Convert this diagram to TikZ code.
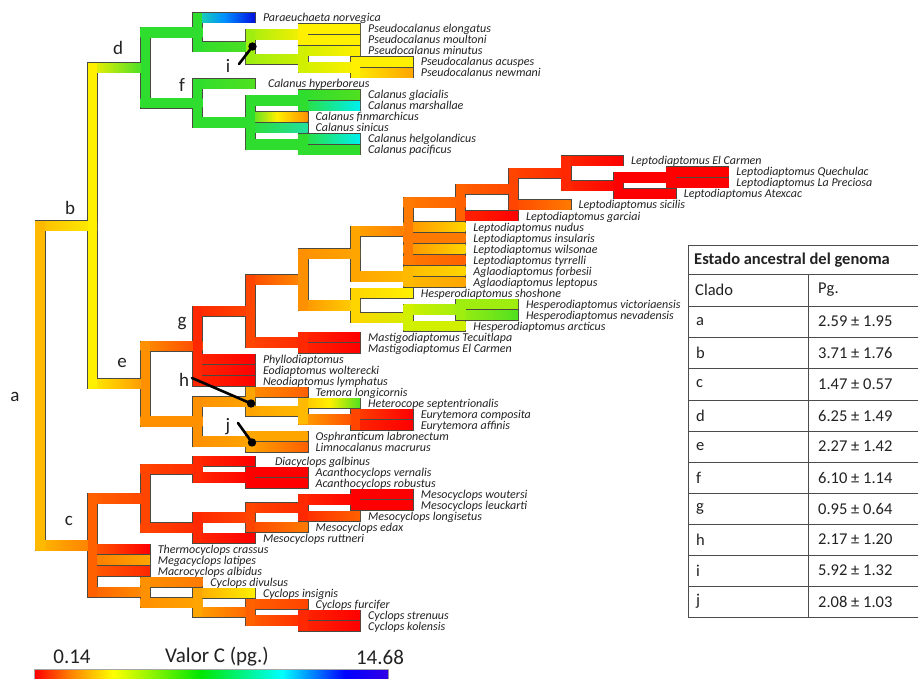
\documentclass[tikz,border=0pt]{standalone}
\usepackage{fontspec}
\setmainfont{Carlito}
\definecolor{k0}{HTML}{FF0000}
\definecolor{k1}{HTML}{FF2800}
\definecolor{k2}{HTML}{FF4500}
\definecolor{k3}{HTML}{FF6000}
\definecolor{k4}{HTML}{FF7A00}
\definecolor{k5}{HTML}{FF9000}
\definecolor{k6}{HTML}{FFA500}
\definecolor{k7}{HTML}{FFBA00}
\definecolor{k8}{HTML}{FFD500}
\definecolor{k9}{HTML}{FFF000}
\definecolor{k10}{HTML}{D0F000}
\definecolor{k11}{HTML}{A0EE10}
\definecolor{k12}{HTML}{50E020}
\definecolor{k13}{HTML}{2EDD2E}
\definecolor{k14}{HTML}{20E0A0}
\definecolor{k15}{HTML}{00F0F0}
\definecolor{k16}{HTML}{0090FF}
\definecolor{k17}{HTML}{0010E0}
\definecolor{brd}{HTML}{4A4A40}
\definecolor{txt}{HTML}{222222}
% outline pass
\newcommand\HbrOut[5]{\fill[brd] (#1-5.5,#3-5.5) rectangle (#2+5.5,#3+5.5);}
\newcommand\VbrOut[4]{\fill[brd] (#1-5.5,#2-5.5) rectangle (#1+5.5,#3+5.5);}
\newcommand\TipOut[7][0]{\fill[brd] (#2-5.5,#3-5.5) rectangle (#2+58.1,#3+5.5);}
\newcommand\TipMOut[8][0]{\fill[brd] (#2-5.5,#3-5.5) rectangle (#2+58.1,#3+5.5);}
% fill passes
\newcommand\HbrFill[5]{\shade[left color=#4,right color=#5] (#1-4.6,#3-4.6) rectangle (#2+4.6,#3+4.6);}
\newcommand\VbrFill[4]{\fill[#4] (#1-4.6,#2-4.6) rectangle (#1+4.6,#3+4.6);}
\newcommand\TipFill[7][0]{\shade[left color=#4,right color=#5] (#2-4.6,#3-4.6) rectangle (#2+57.2,#3+4.6);}
\newcommand\TipMFill[8][0]{\shade[left color=#4,right color=#6,middle color=#5] (#2-4.6,#3-4.6) rectangle (#2+57.2,#3+4.6);}
% text pass
\newcommand\TipText[7][0]{\node[sp] (#6) at (#2+65+#1,#3+4) {#7};}
\newcommand\TipMText[8][0]{\node[sp] (#7) at (#2+65+#1,#3+4) {#8};}
% gobblers
\newcommand\NoH[5]{}
\newcommand\NoV[4]{}
\newcommand\NoT[7][0]{}
\newcommand\NoTM[8][0]{}
\newcommand\treedata{%
\Vbr{40}{225.8}{545.4}{k7}
\Hbr{40}{92.6}{225.8}{k7}{k9}
\Vbr{92.6}{67.84}{383.8}{k9}
\Hbr{92.6}{145.2}{67.84}{k9}{k13}
\Vbr{145.2}{32.44}{103.25}{k13}
\Hbr{145.2}{197.8}{32.44}{k13}{k13}
\Vbr{197.8}{18}{46.875}{k13}
\TipM{197.8}{18}{k14}{k16}{k17}{pnor}{Paraeuchaeta norvegica}
\Hbr{197.8}{250.4}{46.875}{k13}{k12}
\Vbr{250.4}{34.5}{59.25}{k11}
\Hbr{250.4}{303}{34.5}{k11}{k9}
\Vbr{303}{29}{40}{k9}
\Tip{303}{29}{k9}{k9}{pelo}{Pseudocalanus elongatus}
\Tip{303}{40}{k9}{k9}{pmou}{Pseudocalanus moultoni}
\Hbr{250.4}{303}{59.25}{k11}{k10}
\Vbr{303}{51}{67.5}{k10}
\Tip{303}{51}{k10}{k9}{pmin}{Pseudocalanus minutus}
\Hbr{303}{355.6}{67.5}{k10}{k9}
\Vbr{355.6}{62}{73}{k9}
\Tip{355.6}{62}{k9}{k9}{pacu}{Pseudocalanus acuspes}
\Tip{355.6}{73}{k9}{k6}{pnew}{Pseudocalanus newmani}
\Hbr{145.2}{197.8}{103.25}{k13}{k13}
\Vbr{197.8}{84}{122.5}{k13}
\Tip[5]{197.8}{84}{k13}{k12}{chyp}{Calanus hyperboreus}
\Hbr{197.8}{250.4}{122.5}{k13}{k13}
\Vbr{250.4}{100.5}{144.5}{k13}
\Hbr{250.4}{303}{100.5}{k13}{k13}
\Vbr{303}{95}{106}{k13}
\Tip{303}{95}{k13}{k12}{cgla}{Calanus glacialis}
\Tip{303}{106}{k13}{k15}{cmar}{Calanus marshallae}
\TipM{250.4}{117}{k13}{k9}{k5}{cfin}{Calanus finmarchicus}
\Tip{250.4}{128}{k13}{k14}{csin}{Calanus sinicus}
\Hbr{250.4}{303}{144.5}{k13}{k13}
\Vbr{303}{139}{150}{k13}
\Tip{303}{139}{k13}{k15}{chel}{Calanus helgolandicus}
\Tip{303}{150}{k13}{k13}{cpac}{Calanus pacificus}
\Hbr{92.6}{145.2}{383.8}{k9}{k5}
\Vbr{145.2}{346.05}{421.55}{k5}
\Hbr{145.2}{197.8}{346.05}{k5}{k2}
\Vbr{197.8}{311.1}{381}{k1}
\Hbr{197.8}{250.4}{311.1}{k1}{k2}
\Vbr{250.4}{279.65}{342.5}{k2}
\Hbr{250.4}{303}{279.65}{k2}{k5}
\Vbr{303}{253.9}{305.4}{k5}
\Hbr{303}{355.6}{253.9}{k5}{k6}
\Vbr{355.6}{231.3}{276.5}{k6}
\Hbr{355.6}{408.2}{231.3}{k6}{k4}
\Vbr{408.2}{202.6}{260}{k4}
\Hbr{408.2}{460.8}{202.6}{k4}{k3}
\Vbr{460.8}{189.19}{216}{k3}
\Hbr{460.8}{513.4}{189.19}{k3}{k2}
\Vbr{513.4}{173.375}{205}{k2}
\Hbr{513.4}{566}{173.375}{k2}{k1}
\Vbr{566}{161}{185.75}{k1}
\Tip{566}{161}{k1}{k0}{lec}{Leptodiaptomus El Carmen}
\Hbr{566}{618.6}{185.75}{k1}{k0}
\Vbr{618.6}{177.5}{194}{k0}
\Hbr{618.6}{671.2}{177.5}{k0}{k0}
\Vbr{671.2}{172}{183}{k0}
\Tip{671.2}{172}{k0}{k0}{lqu}{Leptodiaptomus Quechulac}
\Tip{671.2}{183}{k0}{k0}{llp}{Leptodiaptomus La Preciosa}
\Tip{618.6}{194}{k0}{k0}{lat}{Leptodiaptomus Atexcac}
\Tip{513.4}{205}{k2}{k4}{lsi}{Leptodiaptomus sicilis}
\Tip{460.8}{216}{k1}{k0}{lga}{Leptodiaptomus garciai}
\Tip{408.2}{227}{k5}{k8}{lnu}{Leptodiaptomus nudus}
\Tip{408.2}{238}{k4}{k4}{lin}{Leptodiaptomus insularis}
\Tip{408.2}{249}{k5}{k8}{lwi}{Leptodiaptomus wilsonae}
\Tip{408.2}{260}{k4}{k3}{lty}{Leptodiaptomus tyrrelli}
\Hbr{355.6}{408.2}{276.5}{k6}{k7}
\Vbr{408.2}{271}{282}{k7}
\Tip{408.2}{271}{k7}{k8}{afo}{Aglaodiaptomus forbesii}
\Tip{408.2}{282}{k7}{k6}{ale}{Aglaodiaptomus leptopus}
\Hbr{303}{355.6}{305.4}{k5}{k8}
\Vbr{355.6}{293}{317.75}{k8}
\Tip{355.6}{293}{k8}{k9}{hsh}{Hesperodiaptomus shoshone}
\Hbr{355.6}{408.2}{317.75}{k8}{k10}
\Vbr{408.2}{309.5}{326}{k10}
\Hbr{408.2}{460.8}{309.5}{k10}{k11}
\Vbr{460.8}{304}{315}{k11}
\Tip{460.8}{304}{k11}{k11}{hvi}{Hesperodiaptomus victoriaensis}
\Tip{460.8}{315}{k11}{k12}{hne}{Hesperodiaptomus nevadensis}
\Tip{408.2}{326}{k10}{k10}{har}{Hesperodiaptomus arcticus}
\Hbr{250.4}{303}{342.5}{k2}{k1}
\Vbr{303}{337}{348}{k1}
\Tip{303}{337}{k1}{k0}{mte}{Mastigodiaptomus Tecuitlapa}
\Tip{303}{348}{k1}{k0}{mec}{Mastigodiaptomus El Carmen}
\Tip{197.8}{359}{k1}{k0}{phy}{Phyllodiaptomus}
\Tip{197.8}{370}{k1}{k0}{eod}{Eodiaptomus wolterecki}
\Tip{197.8}{381}{k1}{k0}{neo}{Neodiaptomus lymphatus}
\Hbr{145.2}{197.8}{421.55}{k5}{k5}
\Vbr{197.8}{401.6}{441.5}{k5}
\Hbr{197.8}{250.4}{401.6}{k5}{k6}
\Vbr{250.4}{392}{411.25}{k6}
\Tip{250.4}{392}{k5}{k3}{tem}{Temora longicornis}
\Hbr{250.4}{303}{411.25}{k6}{k7}
\Vbr{303}{403}{419.5}{k7}
\TipM{303}{403}{k7}{k9}{k12}{het}{Heterocope septentrionalis}
\Hbr{303}{355.6}{419.5}{k6}{k2}
\Vbr{355.6}{414}{425}{k2}
\Tip{355.6}{414}{k2}{k0}{eco}{Eurytemora composita}
\Tip{355.6}{425}{k1}{k0}{eaf}{Eurytemora affinis}
\Hbr{197.8}{250.4}{441.5}{k5}{k6}
\Vbr{250.4}{436}{447}{k6}
\Tip{250.4}{436}{k6}{k6}{osp}{Osphranticum labronectum}
\Tip{250.4}{447}{k6}{k3}{lim}{Limnocalanus macrurus}
\Hbr{40}{92.6}{545.4}{k7}{k4}
\Vbr{92.6}{498.5}{592.3}{k3}
\Hbr{92.6}{145.2}{498.5}{k3}{k2}
\Vbr{145.2}{469.25}{527.7}{k2}
\Hbr{145.2}{197.8}{469.25}{k2}{k1}
\Vbr{197.8}{461}{477.5}{k1}
\Tip[12]{197.8}{461}{k1}{k0}{dga}{Diacyclops galbinus}
\Hbr{197.8}{250.4}{477.5}{k1}{k0}
\Vbr{250.4}{472}{483}{k0}
\Tip{250.4}{472}{k0}{k0}{ave}{Acanthocyclops vernalis}
\Tip{250.4}{483}{k0}{k0}{aro}{Acanthocyclops robustus}
\Hbr{145.2}{197.8}{527.7}{k2}{k1}
\Vbr{197.8}{517.4}{538}{k1}
\Hbr{197.8}{250.4}{517.4}{k1}{k2}
\Vbr{250.4}{507.75}{527}{k2}
\Hbr{250.4}{303}{507.75}{k2}{k1}
\Vbr{303}{499.5}{516}{k1}
\Hbr{303}{355.6}{499.5}{k1}{k0}
\Vbr{355.6}{494}{505}{k0}
\Tip{355.6}{494}{k0}{k0}{mwo}{Mesocyclops woutersi}
\Tip{355.6}{505}{k0}{k0}{mle}{Mesocyclops leuckarti}
\Tip{303}{516}{k1}{k3}{mlo}{Mesocyclops longisetus}
\Tip{250.4}{527}{k2}{k4}{med}{Mesocyclops edax}
\Tip{197.8}{538}{k1}{k0}{mru}{Mesocyclops ruttneri}
\Tip{92.6}{549}{k3}{k0}{tcr}{Thermocyclops crassus}
\Tip{92.6}{560}{k4}{k6}{mla}{Megacyclops latipes}
\Tip{92.6}{571}{k3}{k1}{mal}{Macrocyclops albidus}
\Hbr{92.6}{145.2}{592.3}{k3}{k5}
\Vbr{145.2}{582}{602.6}{k5}
\Tip{145.2}{582}{k5}{k4}{cdi}{Cyclops divulsus}
\Hbr{145.2}{197.8}{602.6}{k5}{k6}
\Vbr{197.8}{593}{612.25}{k6}
\Tip{197.8}{593}{k6}{k9}{cin}{Cyclops insignis}
\Hbr{197.8}{250.4}{612.25}{k6}{k3}
\Vbr{250.4}{604}{620.5}{k3}
\Tip{250.4}{604}{k3}{k2}{cfu}{Cyclops furcifer}
\Hbr{250.4}{303}{620.5}{k3}{k1}
\Vbr{303}{615}{626}{k1}
\Tip{303}{615}{k1}{k0}{cst}{Cyclops strenuus}
\Tip{303}{626}{k1}{k0}{cko}{Cyclops kolensis}
}
\begin{document}
\begin{tikzpicture}[x=1pt,y=-1pt,
  sp/.style={anchor=base west,inner sep=0pt,text=txt,font=\fontsize{12}{12}\selectfont\itshape},
  clade/.style={inner sep=0pt,text=txt,font=\fontsize{19}{19}\selectfont},
  tb/.style={anchor=west,inner sep=0pt,text=txt,font=\fontsize{16.5}{16.5}\selectfont},
  cb/.style={inner sep=0pt,text=txt,font=\fontsize{21}{21}\selectfont},
  grid/.style={draw=black!70,line width=0.9pt},
  ptr/.style={line width=2.6pt,black,line cap=round}]
\useasboundingbox (0,0) rectangle (918,679);
\clip (0,0) rectangle (918,679);
\fill[white] (0,0) rectangle (918,679);
% pass 1: outlines
\let\Hbr\HbrOut \let\Vbr\VbrOut \let\Tip\TipOut \let\TipM\TipMOut
\treedata
% pass 2: horizontal fills
\let\Hbr\HbrFill \let\Vbr\NoV \let\Tip\TipFill \let\TipM\TipMFill
\treedata
% pass 3: vertical fills
\let\Hbr\NoH \let\Vbr\VbrFill \let\Tip\NoT \let\TipM\NoTM
\treedata
% pass 4: tip labels
\let\Hbr\NoH \let\Vbr\NoV \let\Tip\TipText \let\TipM\TipMText
\treedata
% clade letters
\node[clade] (lab-a) at (15,397) {a};
\node[clade] (lab-b) at (70,208) {b};
\node[clade] (lab-c) at (69,521) {c};
\node[clade] (lab-d) at (118,48) {d};
\node[clade] (lab-e) at (122,363) {e};
\node[clade] (lab-f) at (182,85) {f};
\node[clade] (lab-g) at (182,324) {g};
\node[clade] (lab-h) at (184,380) {h};
\node[clade] (lab-i) at (228,66) {i};
\node[clade] (lab-j) at (228,427) {j};
% pointers
\coordinate (dot-i) at (252.5,46.5);
\coordinate (dot-h) at (251,403.5);
\coordinate (dot-j) at (252,442.5);
\coordinate (ptr-i) at (239,64);
\coordinate (ptr-h) at (192,378);
\coordinate (ptr-j) at (238,423);
\draw[ptr] (ptr-i) -- (dot-i);
\draw[ptr] (ptr-h) -- (dot-h);
\draw[ptr] (ptr-j) -- (dot-j);
\fill[black] (dot-i) circle (4.2);
\fill[black] (dot-h) circle (4.2);
\fill[black] (dot-j) circle (4.2);
% table
\draw[grid] (688,245) -- (920,245);
\foreach \yy in {274,306,337,368,400,431,462,493,524,555,586,617}
  \draw[grid] (688,\yy) -- (920,\yy);
\draw[grid] (688,245) -- (688,617);
\draw[grid] (808,274) -- (808,617);
\node[tb,font=\fontsize{16.5}{16.5}\selectfont\bfseries] (th) at (694,260) {Estado ancestral del genoma};
\node[tb] (tc) at (695,290) {Clado};
\node[tb] (tp) at (818,290) {Pg.};
\foreach \lab/\val/\yy [count=\n] in {a/2.59 ± 1.95/321.5, b/3.71 ± 1.76/352.5, c/1.47 ± 0.57/384, d/6.25 ± 1.49/415.5, e/2.27 ± 1.42/446.5, f/6.10 ± 1.14/477.5, g/0.95 ± 0.64/508.5, h/2.17 ± 1.20/539.5, i/5.92 ± 1.32/570.5, j/2.08 ± 1.03/601.5}{
  \node[tb] (tl\n) at (696,\yy) {\lab};
  \node[tb] (tv\n) at (818,\yy) {\val};
}
% colour bar
\node[cb] (cmin) at (72,657) {0.14};
\node[cb] (ctit) at (217,657) {Valor C (pg.)};
\node[cb] (cmax) at (380,657) {14.68};
\fill[black!35] (34,669) rectangle (389,684);
\shade[left color=k0,right color={rgb,255:red,255;green,128;blue,0}] (35,670) rectangle (70.2,684);
\shade[left color={rgb,255:red,255;green,128;blue,0},right color={rgb,255:red,255;green,255;blue,0}] (70,670) rectangle (113.2,684);
\shade[left color={rgb,255:red,255;green,255;blue,0},right color={rgb,255:red,0;green,230;blue,0}] (113,670) rectangle (200.2,684);
\shade[left color={rgb,255:red,0;green,230;blue,0},right color={rgb,255:red,0;green,255;blue,255}] (200,670) rectangle (282.2,684);
\shade[left color={rgb,255:red,0;green,255;blue,255},right color={rgb,255:red,0;green,0;blue,255}] (282,670) rectangle (345.2,684);
\shade[left color={rgb,255:red,0;green,0;blue,255},right color={rgb,255:red,50;green,0;blue,230}] (345,670) rectangle (388,684);
\end{tikzpicture}
\end{document}
